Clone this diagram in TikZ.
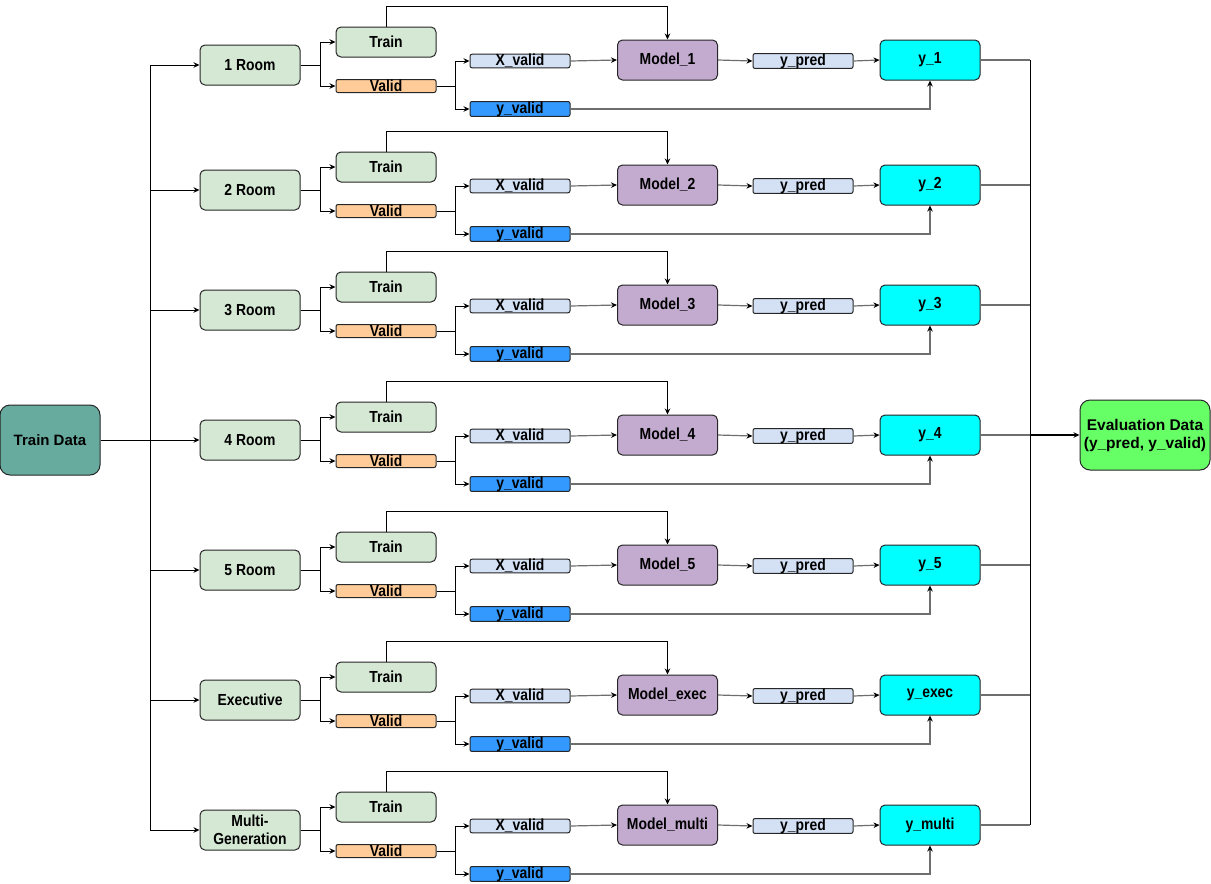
\documentclass[tikz,border=0pt]{standalone}
\usepackage{fontspec}
\setmainfont{Liberation Sans}
\newfontfamily\narrowsans[FakeStretch=0.87]{Liberation Sans}
\usetikzlibrary{arrows.meta}
\definecolor{roomg}{HTML}{D5E8D4}
\definecolor{validc}{HTML}{FFCC99}
\definecolor{xvc}{HTML}{D4E1F5}
\definecolor{yvc}{HTML}{3399FF}
\definecolor{modc}{HTML}{C3ABD0}
\definecolor{outc}{HTML}{00FFFF}
\definecolor{tdc}{HTML}{67AB9F}
\definecolor{evc}{HTML}{66FF66}
\definecolor{linegray}{HTML}{6E6E6E}
\begin{document}
\begin{tikzpicture}[x=1pt,y=-1pt, line width=1pt,
 box/.style={draw=black!85, rounded corners=5pt, minimum width=100pt, inner sep=0pt, font=\narrowsans\bfseries\fontsize{16}{17.5}\selectfont, align=center},
 bigbox/.style={box, minimum height=40pt},
 thinbox/.style={box, minimum height=13pt, rounded corners=2pt},
 arr/.style={-{Stealth[length=6pt,width=5.5pt]}},
 garr/.style={-{Stealth[length=6pt,width=5.5pt,color=black]}, draw=linegray, line width=1.2pt},
]
\useasboundingbox (0,0) rectangle (1211,884);
\node[box, fill=tdc, minimum height=70pt, rounded corners=10pt, font=\bfseries\fontsize{15}{17}\selectfont] (td) at (50,440) {Train Data};
\node[box, fill=evc, minimum width=130pt, minimum height=70pt, rounded corners=10pt, font=\bfseries\fontsize{15.5}{18}\selectfont] (ev) at (1145,435) {Evaluation Data\\(y\_pred, y\_valid)};
\foreach \i/\r/\lab/\m/\o in {1/65/1 Room/Model\_1/y\_1, 2/190/2 Room/Model\_2/y\_2, 3/310/3 Room/Model\_3/y\_3, 4/440/4 Room/Model\_4/y\_4, 5/570/5 Room/Model\_5/y\_5, 6/700/Executive/Model\_exec/y\_exec, 7/830/{Multi-\\Generation}/Model\_multi/y\_multi}{
  \node[bigbox, fill=roomg] (room\i) at (250,\r) {\lab};
  \node[box, fill=roomg, minimum height=30pt] (tr\i) at (386,\r-23) {Train};
  \node[thinbox, fill=validc] (va\i) at (386,\r+21) {Valid};
  \node[thinbox, fill=xvc] (xv\i) at (520,\r-4) {X\_valid};
  \node[thinbox, fill=yvc] (yv\i) at (520,\r+44) {y\_valid};
  \node[bigbox, fill=modc] (mo\i) at (667.5,\r-5) {\m};
  \node[thinbox, fill=xvc] (yp\i) at (803,\r-4) {y\_pred};
  \node[bigbox, fill=outc] (out\i) at (930,\r-5) {\o};
  \coordinate (lb\i) at (150,\r);
  \coordinate (rb\i) at (1030,\r-5);
  \draw[arr] (lb\i) -- (room\i.west);
  \draw[arr] (room\i.east) -- ++(20,0) |- (tr\i.west);
  \draw[arr] (room\i.east) -- ++(20,0) |- (va\i.west);
  \draw[arr] (va\i.east) -- ++(19,0) |- (xv\i.west);
  \draw[arr] (va\i.east) -- ++(19,0) |- (yv\i.west);
  \draw[arr] (tr\i.north) -- ++(0,-20) -| (mo\i.north);
  \draw[garr] (xv\i.east) -- (mo\i.west);
  \draw[garr] (mo\i.east) -- (yp\i.west);
  \draw[garr] (yp\i.east) -- (out\i.west);
  \draw[garr] (yv\i.east) -| (out\i.south);
  \draw[linegray, line width=1.2pt] (out\i.east) -- (rb\i);
}
\draw (lb1) -- (lb7);
\draw (rb1) -- (rb7);
\draw (td.east) -- (lb4);
\draw[arr, line width=1.5pt] (rb4) -- (ev.west);
\end{tikzpicture}
\end{document}
